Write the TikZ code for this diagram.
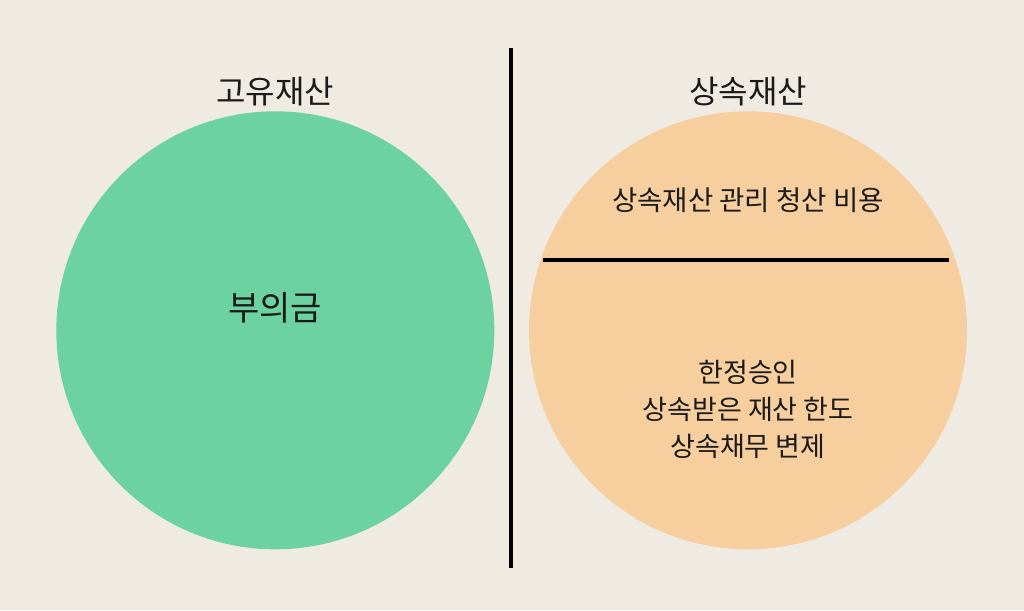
\documentclass[tikz,border=0pt]{standalone}
\usepackage{fontspec}
\newfontfamily\kr{Noto Sans CJK KR}
\definecolor{bgc}{HTML}{EFEAE2}
\definecolor{greenc}{HTML}{6CD2A1}
\definecolor{orangec}{HTML}{F7CE9E}
\definecolor{txt}{HTML}{1A1A1A}
\begin{document}
\begin{tikzpicture}[x=1pt,y=-1pt,
  lbl/.style={inner sep=0pt, text=txt, font=\kr},
  rule/.style={line width=3.5pt, black}]
\fill[bgc] (0,0) rectangle (1024,610);
\useasboundingbox (0,0) rectangle (1024,610);
% circles
\fill[greenc] (275.3,330.3) circle (219);
\fill[orangec] (748,330.3) circle (219);
% divider
\coordinate (vtop) at (511,48);
\coordinate (vbot) at (511,568);
\draw[rule, line width=3.8pt] (vtop) -- (vbot);
\coordinate (hl) at (543,260);
\coordinate (hr) at (949,260);
\draw[rule, line width=4pt] (hl) -- (hr);
% titles
\node[lbl, font=\kr\fontsize{32}{36}\selectfont] (t1) at (275,92) {고유재산};
\node[lbl, font=\kr\fontsize{32}{36}\selectfont] (t2) at (748,92) {상속재산};
\node[lbl, font=\kr\fontsize{34}{38}\selectfont] (n1) at (275,308) {부의금};
\node[lbl, font=\kr\fontsize{27.5}{32}\selectfont] (n2) at (748,200) {상속재산 관리 청산 비용};
\node[lbl, font=\kr\fontsize{27}{37}\selectfont, align=center] (n3) at (748,409) {한정승인\\상속받은 재산 한도\\상속채무 변제};
\end{tikzpicture}
\end{document}
